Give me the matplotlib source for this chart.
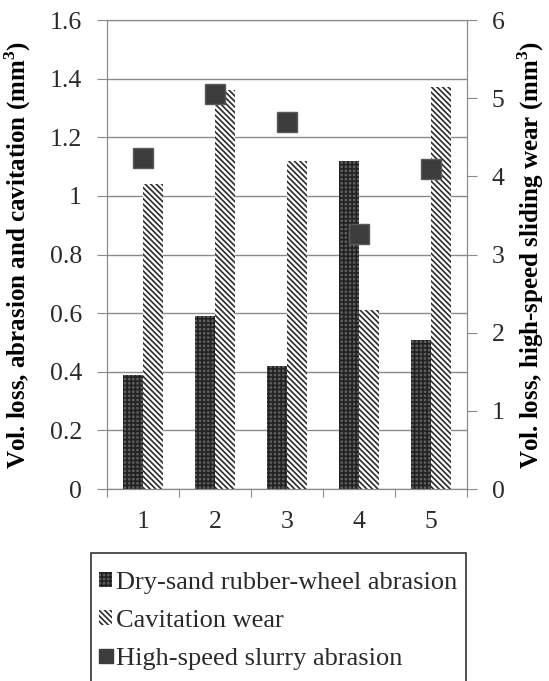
import numpy as np
import matplotlib
matplotlib.use("Agg")
import matplotlib.pyplot as plt
from matplotlib.patches import Patch, Rectangle
from matplotlib.lines import Line2D

# data
samples = [1, 2, 3, 4, 5]
dry_sand = [0.39, 0.59, 0.42, 1.12, 0.51]
cavitation = [1.04, 1.36, 1.12, 0.61, 1.37]
slurry = [4.23, 5.05, 4.69, 3.26, 4.10]
left_ticks = [0, 0.2, 0.4, 0.6, 0.8, 1, 1.2, 1.4, 1.6]
right_ticks = [0, 1, 2, 3, 4, 5, 6]

plt.rcParams["font.family"] = ["Liberation Serif", "DejaVu Serif"]
plt.rcParams["mathtext.fontset"] = "custom"
plt.rcParams["mathtext.rm"] = "Liberation Serif"
plt.rcParams["mathtext.bf"] = "Liberation Serif:bold"
plt.rcParams["hatch.linewidth"] = 1.2
plt.rcParams["text.color"] = "#2a2a2a"
plt.rcParams["xtick.color"] = "#555555"
plt.rcParams["ytick.color"] = "#555555"
plt.rcParams["xtick.labelcolor"] = "#2a2a2a"
plt.rcParams["ytick.labelcolor"] = "#2a2a2a"

W, H = 549, 681
fig = plt.figure(figsize=(W / 100, H / 100), dpi=100)
ax = fig.add_axes([0.1949, 0.2819, 0.6557, 0.6887])
x = np.array(samples, dtype=float)
w = 0.278
dry_hatch = "++++"
cav_hatch = "\\" * 6

grid_c = "#8a8a8a"
ax.set_axisbelow(True)
ax.yaxis.grid(True, color=grid_c, linewidth=1.0)
ax.bar(x - w / 2, dry_sand, w, facecolor="#5e5e5e", edgecolor="#222222",
       hatch=dry_hatch, linewidth=0, label="Dry-sand rubber-wheel abrasion")
ax.bar(x + w / 2, cavitation, w, facecolor="white", edgecolor="#2a2a2a",
       hatch=cav_hatch, linewidth=0, label="Cavitation wear")
ax.set_xlim(0.5, 5.5)
ax.set_ylim(0, 1.6)
ax.set_yticks(left_ticks)
ax.set_yticklabels([f"{t:g}" for t in left_ticks], fontsize=18.5)
ax.set_xticks(np.arange(0.5, 6.0, 1.0))
ax.set_xticklabels([])
ax.set_xticks(x, minor=True)
ax.set_xticklabels([str(s) for s in samples], minor=True, fontsize=18.5)
ax.tick_params(axis="x", which="major", length=6, direction="out", color=grid_c)
ax.tick_params(axis="x", which="minor", length=0, pad=16)
ax.tick_params(axis="y", length=7, direction="out", color=grid_c, pad=11)
for s in ax.spines.values():
    s.set_color(grid_c)
ax.set_ylabel("Vol. loss, abrasion and cavitation (mm$^\\mathbf{3}$)", fontsize=18,
              fontweight="bold")
ax.yaxis.set_label_coords(-0.206, 0.5)

ax2 = ax.twinx()
ax2.plot(x, slurry, linestyle="none", marker="s", markersize=15,
         markerfacecolor="#3c3c3c", markeredgecolor="#5a5a5a", markeredgewidth=1.0)
ax2.set_ylim(0, 6)
ax2.set_yticks(right_ticks)
ax2.set_yticklabels([str(t) for t in right_ticks], fontsize=18.5)
ax2.tick_params(axis="y", length=7, direction="out", color=grid_c, pad=11)
for s in ax2.spines.values():
    s.set_color(grid_c)
ax2.set_ylabel("Vol. loss, high-speed sliding wear (mm$^\\mathbf{3}$)", fontsize=18,
               fontweight="bold")
ax2.yaxis.set_label_coords(1.136, 0.5)

handles = [
    Patch(facecolor="#5e5e5e", edgecolor="#222222", hatch=dry_hatch, linewidth=0,
          label="Dry-sand rubber-wheel abrasion"),
    Patch(facecolor="white", edgecolor="#2a2a2a", hatch=cav_hatch, linewidth=0,
          label="Cavitation wear"),
    Line2D([], [], linestyle="none", marker="s", markersize=10,
           markerfacecolor="#3c3c3c", markeredgecolor="#3c3c3c",
           label="High-speed slurry abrasion"),
]
# legend box runs off the bottom edge, so the frame is drawn separately
fig.patches.append(Rectangle((91 / W, -0.05), (466 - 91) / W, 0.05 + 1 - 553 / H,
                             transform=fig.transFigure, facecolor="none",
                             edgecolor="#333333", linewidth=1.2))
leg = fig.legend(handles=handles, loc="upper left",
                 bbox_to_anchor=(91 / W, 1 - 564 / H), fontsize=19,
                 frameon=False, handlelength=0.5, handleheight=0.5,
                 handletextpad=0.15, labelspacing=0.6, borderpad=0.3,
                 borderaxespad=0)

fig.savefig("out.png", dpi=100)
